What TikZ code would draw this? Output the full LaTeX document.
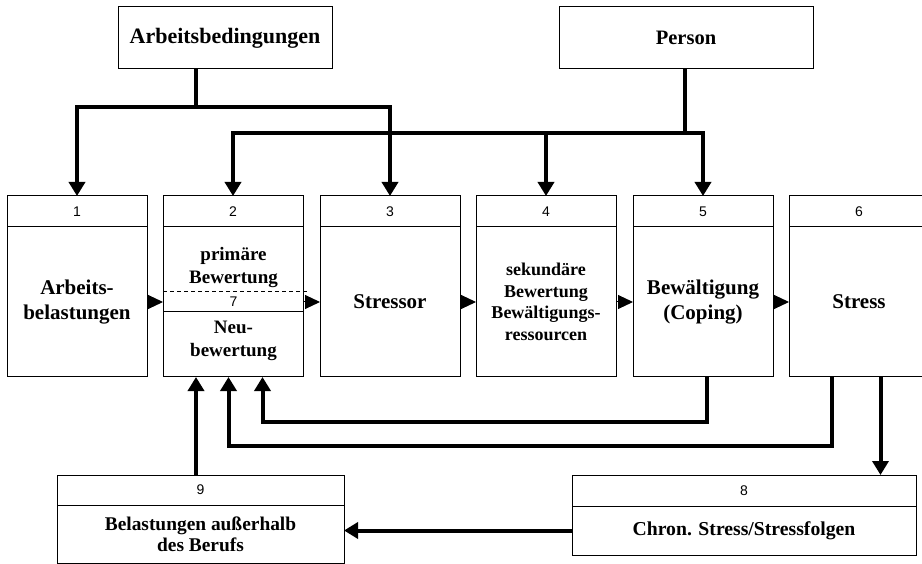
\documentclass[tikz,border=0pt]{standalone}
\usepackage{fontspec}
\setmainfont{Liberation Serif}
\newfontfamily\numfont{Liberation Sans}
\usetikzlibrary{arrows.meta,calc}
\begin{document}
\begin{tikzpicture}[x=1pt,y=-1pt,
  box/.style={draw,line width=1pt,rectangle,inner sep=0pt,outer sep=0pt,anchor=north west,align=center},
  hdr/.style={box,minimum width=140pt,minimum height=31pt,font=\numfont\fontsize{14}{16}\selectfont},
  body/.style={box,minimum width=140pt,minimum height=150pt,font=\bfseries\fontsize{21}{25}\selectfont},
  topbox/.style={box,minimum height=62pt,font=\bfseries\fontsize{20.5}{24}\selectfont},
  conn/.style={line width=4pt,-{Triangle[length=14pt,width=16pt]}},
  bar/.style={line width=4pt},
  tip/.style={line width=1pt,-{Triangle[length=15pt,width=14pt]}}
]
\useasboundingbox (0,0) rectangle (922,564);

% top boxes
\node[topbox,minimum width=214pt,font=\bfseries\fontsize{22}{24}\selectfont] (A) at (118,7) {Arbeitsbedingungen};
\node[topbox,minimum width=254pt] (P) at (559,7) {Person};

% middle row
\foreach \i/\x in {1/7,2/163,3/320,4/476,5/633,6/789}{
  \node[hdr] (n\i) at (\x,196) {\i};
}
\node[body] (b1) at (7,227) {Arbeits-\\belastungen};
\node[body] (b2) at (163,227) {};
\node[body] (b3) at (320,227) {Stressor};
\node[body,font=\bfseries\fontsize{18}{21.7}\selectfont] (b4) at (476,227) {sekundäre\\Bewertung\\Bewältigungs-\\ressourcen};
\node[body] (b5) at (633,227) {Bewältigung\\(Coping)};
\node[body] (b6) at (789,227) {Stress};

% box 2 interior
\draw[line width=1pt,dash pattern=on 4pt off 3pt] ([yshift=-65pt]b2.north west) -- ++(144,0);
\draw[line width=1pt] ([yshift=-85pt]b2.north west) -- ([yshift=-85pt]b2.north east);
\node[font=\bfseries\fontsize{19}{23}\selectfont,align=center] (t2a) at (233.5,268) {primäre\\Bewertung};
\node[font=\numfont\fontsize{14}{16}\selectfont] (t7) at (233.5,302) {7};
\node[font=\bfseries\fontsize{19}{23}\selectfont,align=center] (t2b) at (233.5,341) {Neu-\\bewertung};

% bottom boxes
\node[hdr,minimum width=287pt,minimum height=30pt] (n9) at (57,475) {9};
\node[box,minimum width=287pt,minimum height=58pt,font=\bfseries\fontsize{19.4}{21}\selectfont] (b9) at (57,505) {Belastungen außerhalb\\des Berufs};
\node[hdr,minimum width=344pt,minimum height=31pt] (n8) at (572,475) {8};
\node[box,minimum width=344pt,minimum height=49pt,font=\bfseries\fontsize{19.7}{22}\selectfont] (b8) at (572,506) {Chron. Stress/Stressfolgen};

% connectors from top
\coordinate (a0) at (196,107);
\draw[bar] (A.south -| a0) -- (a0);
\draw[conn] (a0) -| (n1.north);
\draw[conn] (a0) -| (n3.north);
\coordinate (p0) at (685,133);
\draw[bar] (P.south -| p0) -- (p0);
\draw[conn] (p0) -| (n2.north);
\draw[conn] (p0) -| (n4.north);
\draw[conn] (p0) -| (n5.north);

% horizontal flow
\draw[tip] (b1.east) -- (b2.west);
\draw[tip] (b2.east) -- (b3.west);
\draw[tip] (b3.east) -- (b4.west);
\draw[tip] (b4.east) -- (b5.west);
\draw[tip] (b5.east) -- (b6.west);

% feedback loops
\draw[conn] ([xshift=4pt]b5.south) -- ++(0,45) -| ([xshift=29.5pt]b2.south);
\draw[conn] ([xshift=-27.5pt]b6.south) -- ++(0,69) -| ([xshift=-4.5pt]b2.south);
\coordinate (s8) at ([xshift=21.5pt]b6.south);
\draw[conn] (s8) -- (s8 |- n8.north);
\coordinate (s9) at ([xshift=-4.5pt]n9.north);
\draw[conn] (s9) -- (s9 |- b2.south);
\draw[conn] (b8.west) -- (b8.west -| b9.east);
\end{tikzpicture}
\end{document}
